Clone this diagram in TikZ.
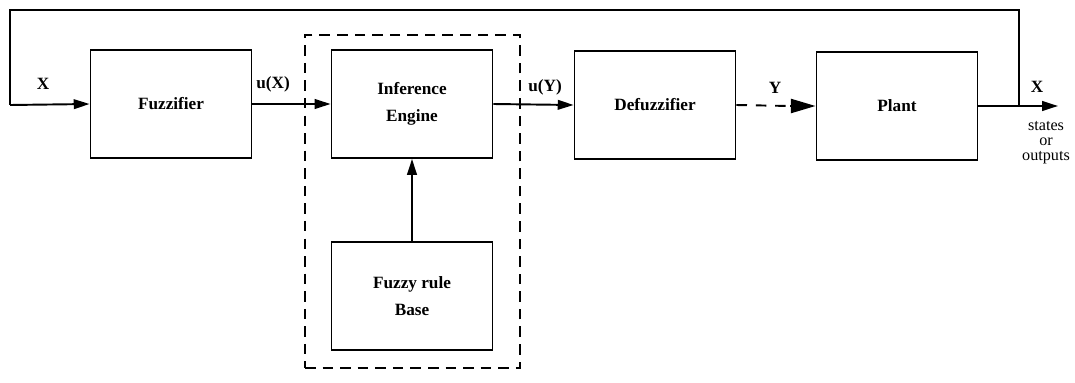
\documentclass[tikz,border=0pt]{standalone}
\usepackage{fontspec}
\setmainfont{Liberation Serif}
\usetikzlibrary{arrows.meta,positioning}
\begin{document}
\begin{tikzpicture}[x=0.02cm,y=-0.02cm,
  line width=1.1pt,
  block/.style={draw,minimum width=3.22cm,minimum height=2.16cm,inner sep=0pt,
    font=\fontsize{9.8}{15}\selectfont\bfseries,align=center},
  lbl/.style={font=\fontsize{9.8}{11}\selectfont\bfseries,inner sep=0pt},
  small/.style={font=\fontsize{9.2}{8.6}\selectfont,inner sep=0pt,align=center},
  tip/.style={-{Triangle[length=9pt,width=5.5pt]}},
  bigtip/.style={-{Triangle[length=14pt,width=8pt]}}]
\useasboundingbox (0,0) rectangle (1075,382);

% blocks
\node[block] (fuzz)  at (171,104) {Fuzzifier};
\node[block] (inf)   at (412,104) {Inference\\Engine};
\node[block] (rule)  at (412,296) {Fuzzy rule\\Base};
\node[block] (defuz) at (655,105) {Defuzzifier};
\node[block] (plant) at (897,106) {Plant};

% knowledge-base boundary
\node[draw,dash pattern=on 6pt off 4pt,minimum width=4.3cm,minimum height=6.66cm,inner sep=0pt] (kb) at (412.5,201.5) {};

% feedback loop and outputs
\coordinate (in)  at (10,105);
\coordinate (tl)  at (10,10);
\coordinate (tr)  at (1019,10);
\coordinate (tap) at (1019,106);
\coordinate (out) at (1058,106);

\draw (tap) -- (tr) -- (tl) -- (in);
\draw[tip] (in) -- (fuzz.west);
\draw[tip] (plant.east) -- (out);

\draw[tip] (fuzz.east) -- (inf.west);
\draw[tip] (inf.east) -- (defuz.west);
\draw[tip] (rule.north) -- (inf.south);
\coordinate (dashend) at (790,106);
\draw[dash pattern=on 6pt off 5pt] (defuz.east) -- (dashend);
\draw[bigtip] (dashend) -- (plant.west);

% signal labels
\node[lbl] (lx)  at (43,84)   {X};
\node[lbl] (lux) at (273,84)  {u(X)};
\node[lbl] (luy) at (545,87)  {u(Y)};
\node[lbl] (ly)  at (775,88)  {Y};
\node[lbl] (lx2) at (1037,87) {X};
\node[small] (so) at (1046,143) {states\\or\\outputs};
\end{tikzpicture}
\end{document}
